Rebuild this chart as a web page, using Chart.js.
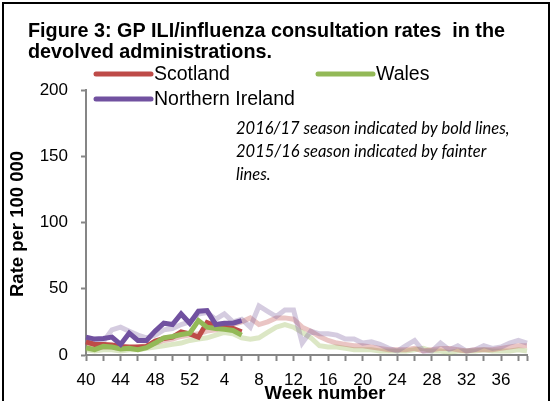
<!DOCTYPE html>
<html>
<head>
<meta charset="utf-8">
<script src="https://cdn.jsdelivr.net/npm/chart.js@4/dist/chart.umd.min.js"></script>
<style>
  html, body { margin: 0; padding: 0; background: #fff; overflow: hidden; }
  #wrap { position: relative; width: 552px; height: 401px; }
</style>
</head>
<body>
<div id="wrap"><canvas id="ili" width="552" height="401"></canvas></div>
<script>
// week numbers, 40 through 39
var weeks = [40,41,42,43,44,45,46,47,48,49,50,51,52,1,2,3,4,5,6,7,8,9,10,11,12,13,14,15,16,17,18,19,20,21,22,23,24,25,26,27,28,29,30,31,32,33,34,35,36,37,38,39];

// 2016/17 season (bold lines), weeks 40 to 6
var scotland1617 = [10, 8, 8, 7.5, 6.5, 6, 6, 6.5, 10.5, 12.5, 13.5, 17.5, 16, 13.5, 24.5, 22, 21, 20, 17.5];
var wales1617 = [5.5, 4, 6.5, 6, 4.5, 5, 4, 5.5, 9, 13, 14, 15.5, 16.5, 26, 21, 20, 19.5, 18.5, 15];
var ni1617 = [13.5, 12, 12.5, 13.5, 8, 16.5, 11, 11, 18, 24, 23, 31, 24, 33, 33.5, 23, 24, 24, 26];

// 2015/16 season (fainter lines), full year
var scotland1516 = [6, 5, 6, 6, 5, 5, 6, 7, 9, 11, 12, 14, 15, 16, 18, 19, 21, 23, 25, 28, 23, 25, 28, 28, 27, 21, 18, 14, 11, 9, 8, 7, 7, 6, 5, 4, 4, 4, 5, 3, 4, 5, 5, 4, 3, 4, 4, 4, 5, 6, 7, 7];
var wales1516 = [4, 3, 4, 4, 3, 4, 4, 5, 6, 7, 8, 9, 11, 12, 13, 15, 17, 16, 13, 12, 13, 17, 21, 23, 21, 17, 13, 7, 6, 6, 5, 4, 4, 4, 3, 3, 3, 3, 4, 5, 3, 3, 2, 3, 3, 3, 4, 3, 3, 3, 4, 3];
var ni1516 = [10, 9, 10, 19, 21, 18, 15, 13, 15, 19, 20, 23, 25, 31, 32, 27, 31, 25, 27, 21, 37, 33, 29, 34, 34, 9, 18, 16, 16, 15, 12, 12, 9, 10, 8, 5, 3, 7, 11, 3, 3, 9, 4, 7, 3, 4, 7, 5, 6, 9, 11, 9];

var yTicks = [0, 50, 100, 150, 200];

var red = '#BE4B48', green = '#93B957', purple = '#7151A0';
var redF = 'rgba(192,80,77,0.33)', greenF = 'rgba(155,187,89,0.35)', purpleF = 'rgba(128,100,162,0.33)';

var FONT = '"Liberation Sans", Arial, sans-serif';

function line(label, data, colour) {
  return {
    label: label,
    data: data,
    borderColor: colour,
    backgroundColor: colour,
    borderWidth: 5,
    pointRadius: 0,
    tension: 0,
    fill: false,
    borderJoinStyle: 'miter',
    borderCapStyle: 'butt'
  };
}

// title, legend, notes and axis titles
var extras = {
  id: 'extras',
  afterDraw: function (chart) {
    var c = chart.ctx;
    c.save();
    c.fillStyle = '#000';
    c.textAlign = 'left';
    c.textBaseline = 'alphabetic';
    c.font = 'bold 19.8px ' + FONT;
    c.fillText('Figure 3: GP ILI/influenza consultation rates  in the', 28, 37);
    c.fillText('devolved administrations.', 28, 58);

    // legend
    var items = [['Scotland', red, 96, 74], ['Wales', green, 318, 74], ['Northern Ireland', purple, 96, 99]];
    c.font = '19.5px ' + FONT;
    c.textBaseline = 'middle';
    items.forEach(function (it) {
      c.strokeStyle = it[1];
      c.lineWidth = 5;
      c.lineCap = 'round';
      c.beginPath();
      c.moveTo(it[2], it[3]);
      c.lineTo(it[2] + 55, it[3]);
      c.stroke();
      c.fillText(it[0], it[2] + 58, it[3] + 1);
    });

    // note
    c.font = 'italic 16.5px Lato, sans-serif';
    c.fillText('2016/17 season indicated by bold lines,', 236, 129);
    c.fillText('2015/16 season indicated by fainter', 236, 152);
    c.fillText('lines.', 236, 175);

    // axis titles
    c.font = 'bold 18.5px ' + FONT;
    c.textAlign = 'center';
    c.fillText('Week number', 325, 394);
    c.translate(18, 224);
    c.rotate(-Math.PI / 2);
    c.fillText('Rate per 100 000', 0, 0);
    c.restore();

    // frame
    c.save();
    c.strokeStyle = '#000';
    c.lineWidth = 2;
    c.strokeRect(3, 3, 546, 420);
    c.restore();
  }
};

new Chart(document.getElementById('ili'), {
  type: 'line',
  data: {
    labels: weeks,
    datasets: [
      line('Northern Ireland', ni1617, purple),
      line('Wales', wales1617, green),
      line('Scotland', scotland1617, red),
      line('Northern Ireland 2015/16', ni1516, purpleF),
      line('Scotland 2015/16', scotland1516, redF),
      line('Wales 2015/16', wales1516, greenF)
    ]
  },
  options: {
    responsive: false,
    animation: false,
    layout: { padding: { top: 90, right: 25, left: 0, bottom: 0 } },
    plugins: { legend: { display: false }, title: { display: false }, tooltip: { enabled: false } },
    scales: {
      x: {
        type: 'category',
        offset: false,
        border: { color: '#868686', width: 2 },
        grid: {
          drawOnChartArea: false,
          drawTicks: true,
          tickLength: 6,
          tickWidth: 2,
          color: function (ctx) {
            return (ctx.index % 2 === 0 || ctx.index === weeks.length - 1) ? '#868686' : 'rgba(0,0,0,0)';
          }
        },
        ticks: {
          autoSkip: false,
          maxRotation: 0,
          padding: 9,
          color: '#000',
          font: { family: FONT, size: 17 },
          callback: function (v, i) { return i % 4 === 0 ? weeks[i] : ''; }
        },
        afterFit: function (s) { s.height = 46; }
      },
      y: {
        min: 0,
        max: 200,
        border: { color: '#868686', width: 2 },
        grid: { drawOnChartArea: false, drawTicks: true, tickLength: 5, tickWidth: 2, color: '#868686' },
        afterBuildTicks: function (s) { s.ticks = yTicks.map(function (v) { return { value: v }; }); },
        ticks: {
          padding: 13,
          color: '#000',
          font: { family: FONT, size: 17 }
        },
        afterFit: function (s) { s.width = 86; }
      }
    }
  },
  plugins: [extras]
});
</script>
</body>
</html>
